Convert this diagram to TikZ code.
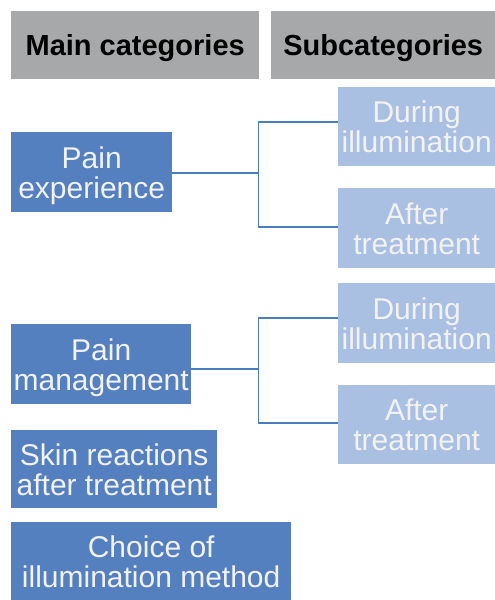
\documentclass[tikz,border=0pt]{standalone}
\usepackage{fontspec}
\setmainfont{Liberation Sans}
\definecolor{headgray}{RGB}{166,168,169}
\definecolor{maincol}{RGB}{84,128,192}
\definecolor{subcol}{RGB}{170,192,227}
\definecolor{linkcol}{RGB}{74,125,192}
\definecolor{boxtext}{RGB}{242,242,242}
\begin{document}
\begin{tikzpicture}[x=1pt,y=1pt,
    header/.style={fill=headgray,anchor=north west,inner sep=0pt,text depth=0pt,
        font=\bfseries\fontsize{29}{29}\selectfont},
    maincat/.style={fill=maincol,text=boxtext,anchor=north west,inner sep=0pt,
        text depth=0pt,align=center,font=\fontsize{30}{30}\selectfont},
    subcat/.style={maincat,fill=subcol,minimum width=157pt},
    link/.style={draw=linkcol,line width=1.4pt}]
            \useasboundingbox (0,0) rectangle (495,600);

            % Headers
            \node[header,minimum width=248pt,minimum height=68pt] (hmain) at (11,589) {Main categories};
            \node[header,minimum width=224pt,minimum height=68pt] (hsub) at (271,589) {Subcategories};

            % Main categories
            \node[maincat,minimum width=161pt,minimum height=80pt] (painexp) at (11,468) {Pain\\experience};
            \node[maincat,minimum width=180pt,minimum height=80pt] (painman) at (11,276) {Pain\\management};
            \node[maincat,minimum width=206pt,minimum height=78pt] (skin) at (11,170) {Skin reactions\\after treatment};
            \node[maincat,minimum width=280pt,minimum height=78pt] (choice) at (11,78) {Choice of\\illumination method};

            % Subcategories
            \node[subcat,minimum height=79pt] (during1) at (338,513) {During\\illumination};
            \node[subcat,minimum height=80pt] (after1) at (338,412) {After\\treatment};
            \node[subcat,minimum height=80pt] (during2) at (338,317) {During\\illumination};
            \node[subcat,minimum height=79pt] (after2) at (338,215) {After\\treatment};

            % Links
            \draw[link] ([yshift=-1pt]painexp.east) -- ++(86,0) coordinate (fork1);
            \draw[link] ([yshift=4.5pt]during1.west) -| (fork1) |- ([yshift=1pt]after1.west);
            \draw[link] ([yshift=-5pt]painman.east) -- ++(67,0) coordinate (fork2);
            \draw[link] ([yshift=5pt]during2.west) -| (fork2) |- ([yshift=1.5pt]after2.west);
        \end{tikzpicture}
\end{document}
